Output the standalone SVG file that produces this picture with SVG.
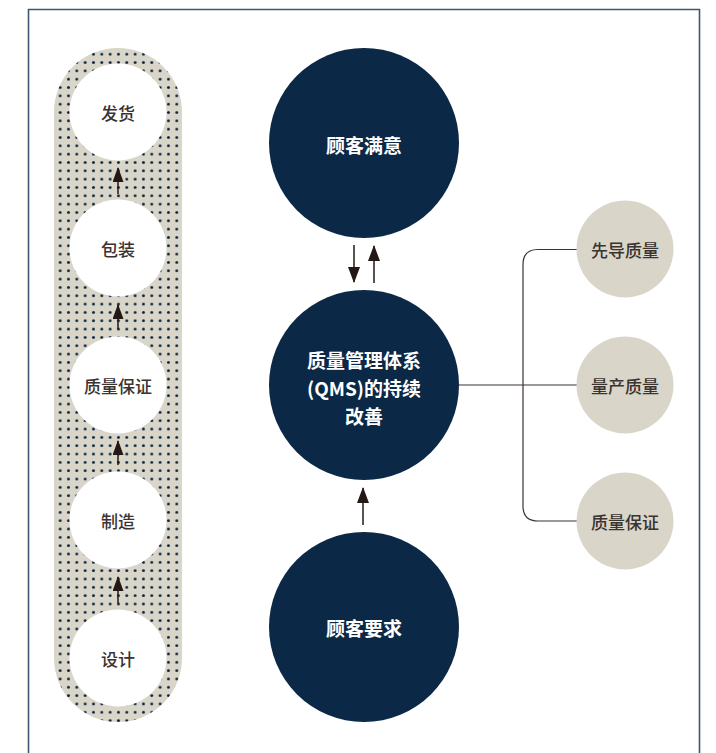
<svg xmlns="http://www.w3.org/2000/svg" width="716" height="753" viewBox="0 0 716 753">
<defs>
<pattern id="dots" x="56" y="50" width="8.33" height="8.33" patternUnits="userSpaceOnUse">
<circle cx="4.16" cy="4.16" r="1.45" fill="#0a2440"/>
</pattern>
<marker id="ah" markerUnits="userSpaceOnUse" markerWidth="16" markerHeight="12" refX="15" refY="6" orient="auto" viewBox="0 0 16 12">
<path d="M0,0 L16,6 L0,12 Z" fill="#231815"/>
</marker>
<marker id="ahs" markerUnits="userSpaceOnUse" markerWidth="15" markerHeight="11" refX="14" refY="5.5" orient="auto" viewBox="0 0 15 11">
<path d="M0,0 L15,5.5 L0,11 Z" fill="#231815"/>
</marker>
</defs>
<style>
.frame{fill:none;stroke:#3b5874;stroke-width:1.6}
.navy{fill:#0b2846}
.white{fill:#ffffff}
.beige{fill:#d9d6c9}
.tw{font-family:"Noto Sans CJK SC","Noto Sans",sans-serif;font-size:19px;font-weight:bold;fill:#ffffff;text-anchor:middle;dominant-baseline:central}
.td{font-family:"Noto Sans CJK SC","Noto Sans",sans-serif;font-size:17px;font-weight:500;fill:#3a3330;text-anchor:middle;dominant-baseline:central}
.arr{stroke:#231815;stroke-width:1.5;fill:none}
.conn{stroke:#3a3330;stroke-width:1.2;fill:none}
</style>
<rect class="white" x="0" y="0" width="716" height="753"/>
<path class="frame" d="M28.5,760 L28.5,9.5 L699.5,9.5 L699.5,760"/>
<g id="pill">
<rect x="54" y="48" width="128" height="674" rx="64" ry="64" class="beige"/>
<rect x="54" y="48" width="128" height="674" rx="64" ry="64" fill="url(#dots)"/>
</g>
<g id="n-fahuo"><circle cx="118" cy="112" r="48.5" class="white"/><text class="td" x="118" y="112">发货</text></g>
<g id="n-baozhuang"><circle cx="118" cy="248" r="48.5" class="white"/><text class="td" x="118" y="248">包装</text></g>
<g id="n-zlbz-left"><circle cx="118" cy="385" r="48.5" class="white"/><text class="td" x="118" y="385">质量保证</text></g>
<g id="n-zhizao"><circle cx="118" cy="520" r="48.5" class="white"/><text class="td" x="118" y="520">制造</text></g>
<g id="n-sheji"><circle cx="118" cy="658" r="48.5" class="white"/><text class="td" x="118" y="658">设计</text></g>
<g id="n-manyi"><circle cx="364" cy="143" r="95" class="navy"/><text class="tw" x="364" y="144">顾客满意</text></g>
<g id="n-qms"><circle cx="364" cy="385" r="95" class="navy"/>
<text class="tw" x="364" y="359">质量管理体系</text>
<text class="tw" x="364" y="387">(QMS)的持续</text>
<text class="tw" x="364" y="415">改善</text></g>
<g id="n-yaoqiu"><circle cx="364" cy="627" r="95" class="navy"/><text class="tw" x="364" y="627">顾客要求</text></g>
<g id="connectors">
<line class="arr" x1="118" y1="194" x2="118" y2="168" marker-end="url(#ahs)"/>
<line class="arr" x1="118" y1="329" x2="118" y2="305" marker-end="url(#ahs)"/>
<line class="arr" x1="118" y1="465" x2="118" y2="441" marker-end="url(#ahs)"/>
<line class="arr" x1="118" y1="603" x2="118" y2="577" marker-end="url(#ahs)"/>
<line class="arr" x1="354" y1="245" x2="354" y2="282" marker-end="url(#ah)"/>
<line class="arr" x1="374" y1="283" x2="374" y2="246" marker-end="url(#ah)"/>
<line class="arr" x1="363" y1="525" x2="363" y2="488" marker-end="url(#ah)"/>
<path class="conn" d="M459,385 L577,385"/>
<path class="conn" d="M577,249.5 L538,249.5 Q523,249.5 523,264.5 L523,506 Q523,521 538,521 L577,521"/>
</g>
<g id="n-xiandao"><circle cx="625" cy="249" r="48.5" class="beige"/><text class="td" x="625" y="249">先导质量</text></g>
<g id="n-liangchan"><circle cx="625" cy="385" r="48.5" class="beige"/><text class="td" x="625" y="385">量产质量</text></g>
<g id="n-zlbz-right"><circle cx="625" cy="521" r="48.5" class="beige"/><text class="td" x="625" y="521">质量保证</text></g>
</svg>
